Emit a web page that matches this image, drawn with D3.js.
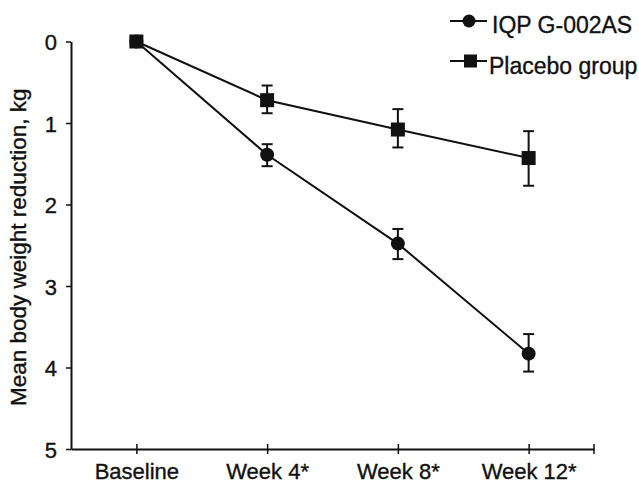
<!DOCTYPE html>
<html>
<head>
<meta charset="utf-8">
<script src="https://cdn.jsdelivr.net/npm/d3@7"></script>
<style>
  body { margin: 0; background: #fff; }
  text { font-family: 'Liberation Sans', Arial, sans-serif; fill: #111; stroke: #111; stroke-width: 0.35px; }
</style>
</head>
<body>
<div id="container"></div>
<script>
const WIDTH = 639;
const HEIGHT = 484;

const timepoints = ['Baseline', 'Week 4*', 'Week 8*', 'Week 12*'];
const yTicks = [0, 1, 2, 3, 4, 5];

// mean reduction (kg) and error bar ends
const iqpMean = [0, 1.39, 2.48, 3.83];
const iqpLow = [0, 1.26, 2.3, 3.59];
const iqpHigh = [0, 1.53, 2.67, 4.05];

const placeboMean = [0, 0.72, 1.08, 1.43];
const placeboLow = [0, 0.54, 0.83, 1.1];
const placeboHigh = [0, 0.88, 1.3, 1.77];

const seriesNames = ['IQP G-002AS', 'Placebo group'];

const margin = { top: 41.5, right: 45, bottom: 35, left: 71 };
const FONT = "'Liberation Sans', Arial, sans-serif";

const svg = d3
  .select('#container')
  .append('svg')
  .attr('width', WIDTH)
  .attr('height', HEIGHT);

const x = d3
  .scalePoint()
  .domain(timepoints)
  .range([margin.left, WIDTH - margin.right])
  .padding(0.5);

const y = d3
  .scaleLinear()
  .domain([0, 5])
  .range([margin.top, HEIGHT - margin.bottom]);

// y axis
const yAxis = svg
  .append('g')
  .attr('transform', `translate(${margin.left}, 0)`)
  .call(d3.axisLeft(y).tickValues(yTicks).tickFormat(d3.format('d')).tickSize(5).tickSizeOuter(0).tickPadding(9));
yAxis.select('.domain').attr('stroke', '#111').attr('stroke-width', 2);
yAxis.selectAll('.tick line').attr('stroke', '#111').attr('stroke-width', 1.5);
yAxis.selectAll('.tick text').attr('font-size', 22).style('font-family', FONT).attr('fill', '#111').attr('dy', '0.38em');

// x axis
const xAxis = svg
  .append('g')
  .attr('transform', `translate(0, ${y(5)})`)
  .call(d3.axisBottom(x).tickSize(5).tickSizeOuter(0).tickPadding(9));
xAxis.select('.domain').attr('stroke', '#111').attr('stroke-width', 2);
xAxis.selectAll('.tick line').attr('y1', -5).attr('stroke', '#111').attr('stroke-width', 1.5);
xAxis.selectAll('.tick text').attr('font-size', 22).style('font-family', FONT).attr('fill', '#111');
xAxis
  .append('line')
  .attr('x1', x.range()[1])
  .attr('x2', x.range()[1])
  .attr('y1', -5)
  .attr('y2', 5)
  .attr('stroke', '#111')
  .attr('stroke-width', 1.5);

// y label
svg
  .append('text')
  .attr('transform', `translate(26, ${(y(0) + y(5)) / 2 + 2}) rotate(-90)`)
  .attr('text-anchor', 'middle')
  .attr('font-size', 22.5)
  .text('Mean body weight reduction, kg');

const line = d3
  .line()
  .x((d, i) => x(timepoints[i]))
  .y((d) => y(d));

const series = [
  { name: seriesNames[0], mean: iqpMean, low: iqpLow, high: iqpHigh, shape: 'circle' },
  { name: seriesNames[1], mean: placeboMean, low: placeboLow, high: placeboHigh, shape: 'square' },
];

series.forEach((s) => {
  const g = svg.append('g');
  g.append('path')
    .attr('d', line(s.mean))
    .attr('fill', 'none')
    .attr('stroke', '#111')
    .attr('stroke-width', 2);

  const err = g
    .selectAll('.err')
    .data(s.mean.map((m, i) => ({ i, lo: s.low[i], hi: s.high[i] })).filter((d) => d.hi > d.lo))
    .enter()
    .append('g')
    .attr('stroke', '#111')
    .attr('stroke-width', 2);
  err.append('line')
    .attr('x1', (d) => x(timepoints[d.i]))
    .attr('x2', (d) => x(timepoints[d.i]))
    .attr('y1', (d) => y(d.lo))
    .attr('y2', (d) => y(d.hi));
  err.append('line')
    .attr('x1', (d) => x(timepoints[d.i]) - 5.5)
    .attr('x2', (d) => x(timepoints[d.i]) + 5.5)
    .attr('y1', (d) => y(d.lo))
    .attr('y2', (d) => y(d.lo));
  err.append('line')
    .attr('x1', (d) => x(timepoints[d.i]) - 5.5)
    .attr('x2', (d) => x(timepoints[d.i]) + 5.5)
    .attr('y1', (d) => y(d.hi))
    .attr('y2', (d) => y(d.hi));

  if (s.shape === 'circle') {
    g.selectAll('circle')
      .data(s.mean)
      .enter()
      .append('circle')
      .attr('cx', (d, i) => x(timepoints[i]))
      .attr('cy', (d) => y(d))
      .attr('r', 7)
      .attr('fill', '#111');
  } else {
    g.selectAll('rect')
      .data(s.mean)
      .enter()
      .append('rect')
      .attr('x', (d, i) => x(timepoints[i]) - 7)
      .attr('y', (d) => y(d) - 7)
      .attr('width', 14)
      .attr('height', 14)
      .attr('fill', '#111');
  }
});

// legend
const legend = svg.append('g').attr('transform', 'translate(450, 0)');
const legendItem = legend
  .selectAll('g')
  .data(series)
  .enter()
  .append('g')
  .attr('transform', (d, i) => `translate(0, ${21 + i * 40})`);

legendItem
  .append('line')
  .attr('x1', 0)
  .attr('x2', 37)
  .attr('stroke', '#111')
  .attr('stroke-width', 2);

legendItem
  .filter((d) => d.shape === 'circle')
  .append('circle')
  .attr('cx', 19)
  .attr('r', 6.5)
  .attr('fill', '#111');

legendItem
  .filter((d) => d.shape === 'square')
  .append('rect')
  .attr('x', 14)
  .attr('y', -6.5)
  .attr('width', 13)
  .attr('height', 13)
  .attr('fill', '#111');

legendItem
  .append('text')
  .attr('x', (d, i) => (i === 0 ? 42 : 39))
  .attr('y', (d, i) => (i === 0 ? 12 : 13))
  .attr('font-size', 23)
  .text((d) => d.name);
</script>
</body>
</html>
